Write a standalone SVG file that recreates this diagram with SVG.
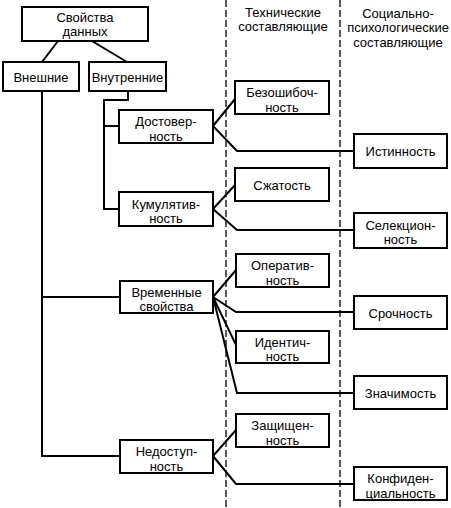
<svg xmlns="http://www.w3.org/2000/svg" width="451" height="508" viewBox="0 0 451 508">
<style>
.box{fill:#fff;stroke:#000;stroke-width:2}
.ln{fill:none;stroke:#000;stroke-width:2;stroke-linejoin:miter}
.dash{fill:none;stroke:#000;stroke-width:1.3;stroke-dasharray:7 3}
text{font-family:"Liberation Sans",Arial,sans-serif;font-size:13px;fill:#000;text-anchor:middle}
</style>
<rect width="451" height="508" fill="#fff"/>
<g id="columns">
<line class="dash" x1="226" y1="0" x2="226" y2="508"/>
<line class="dash" x1="340" y1="0" x2="340" y2="508"/>
<text x="283" y="17">Технические</text>
<text x="283" y="31">составляющие</text>
<text x="398" y="18">Социально-</text>
<text x="398" y="32">психологические</text>
<text x="398" y="46.5">составляющие</text>
</g>
<g id="connectors">
<path class="ln" d="M58 41 L42 62 M92 41 L127 62"/>
<path class="ln" d="M42 91 V456 H120 M42 297 H120"/>
<path class="ln" d="M128 91 V100 H104 V209 H120 M104 126 H119"/>
<path class="ln" d="M213 126 L235 99 M213 126 L237 151 H354"/>
<path class="ln" d="M213 209 L235 185 M213 209 L237 230 H354"/>
<path class="ln" d="M213 297 L236 270 M213 297 L236 312 H354 M213 297 L236 345 M213 297 L237 393 H354"/>
<path class="ln" d="M213 456 L236 430 M213 456 L236 484 H354"/>
</g>
<g id="n-svoistva"><rect class="box" x="22" y="7" width="126" height="34"/><text x="85" y="21.5">Свойства</text><text x="85" y="36">данных</text></g>
<g id="n-vneshnie"><rect class="box" x="3" y="62" width="76" height="29"/><text x="41" y="81.5">Внешние</text></g>
<g id="n-vnutrennie"><rect class="box" x="89" y="62" width="77" height="29"/><text x="127.5" y="81.5">Внутренние</text></g>
<g id="n-dostovernost"><rect class="box" x="119" y="110" width="94" height="33"/><text x="166" y="126">Достовер-</text><text x="166" y="140.5">ность</text></g>
<g id="n-kumulyativnost"><rect class="box" x="119" y="192" width="94" height="34"/><text x="166" y="208.5">Кумулятив-</text><text x="166" y="223">ность</text></g>
<g id="n-vremennye"><rect class="box" x="120" y="281" width="93" height="32"/><text x="166.5" y="296.5">Временные</text><text x="166.5" y="311">свойства</text></g>
<g id="n-nedostupnost"><rect class="box" x="120" y="440" width="93" height="33"/><text x="166.5" y="456">Недоступ-</text><text x="166.5" y="470.5">ность</text></g>
<g id="n-bezoshibochnost"><rect class="box" x="235" y="81" width="94" height="33"/><text x="282" y="97">Безошибоч-</text><text x="282" y="111.5">ность</text></g>
<g id="n-szhatost"><rect class="box" x="235" y="168" width="94" height="33"/><text x="282" y="189.5">Сжатость</text></g>
<g id="n-operativnost"><rect class="box" x="236" y="254" width="93" height="33"/><text x="282.5" y="270">Оператив-</text><text x="282.5" y="284.5">ность</text></g>
<g id="n-identichnost"><rect class="box" x="236" y="331" width="93" height="32"/><text x="282.5" y="346.5">Идентич-</text><text x="282.5" y="361">ность</text></g>
<g id="n-zashchishchennost"><rect class="box" x="236" y="414" width="93" height="33"/><text x="282.5" y="430">Защищен-</text><text x="282.5" y="444.5">ность</text></g>
<g id="n-istinnost"><rect class="box" x="354" y="134" width="93" height="34"/><text x="400.5" y="156">Истинность</text></g>
<g id="n-selektsionnost"><rect class="box" x="354" y="213" width="93" height="35"/><text x="400.5" y="229.5">Селекцион-</text><text x="400.5" y="244">ность</text></g>
<g id="n-srochnost"><rect class="box" x="354" y="296" width="93" height="33"/><text x="400.5" y="317.5">Срочность</text></g>
<g id="n-znachimost"><rect class="box" x="354" y="376" width="93" height="33"/><text x="400.5" y="397.5">Значимость</text></g>
<g id="n-konfidentsialnost"><rect class="box" x="354" y="467" width="93" height="33"/><text x="400.5" y="483">Конфиден-</text><text x="400.5" y="497.5">циальность</text></g>
</svg>
